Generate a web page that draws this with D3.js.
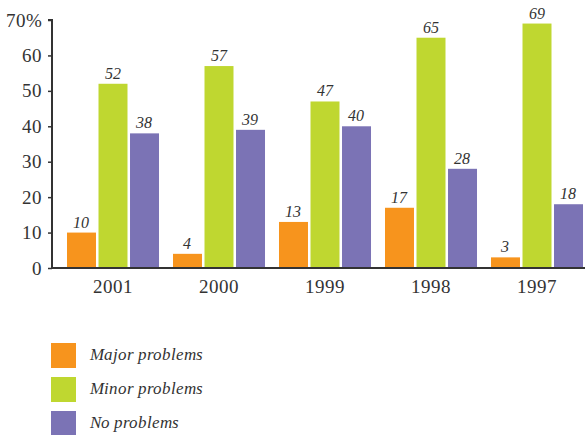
<!DOCTYPE html>
<html>
<head>
<meta charset="utf-8">
<script src="https://cdn.jsdelivr.net/npm/d3@7"></script>
<style>
  @font-face { font-family: "ChartSerif"; font-style: normal; font-weight: 400;
    src: local("Liberation Serif"), local("LiberationSerif"), local("Liberation Serif Regular"), local("LiberationSerif-Regular"); }
  @font-face { font-family: "ChartSerif"; font-style: italic; font-weight: 400;
    src: local("Liberation Serif Italic"), local("LiberationSerif-Italic"); }
</style>
</head>
<body style="margin:0;background:#fff">
<svg id="chart" width="585" height="435" style="display:block"></svg>
<script>
// Survey results by year (percent of respondents)
const years = ["2001", "2000", "1999", "1998", "1997"];
const seriesNames = ["Major problems", "Minor problems", "No problems"];
const majorProblems = [10, 4, 13, 17, 3];
const minorProblems = [52, 57, 47, 65, 69];
const noProblems = [38, 39, 40, 28, 18];
const yTicks = [0, 10, 20, 30, 40, 50, 60, 70];
const colors = ["#F7941D", "#BFD730", "#7B73B5"];

const FONT = '"ChartSerif", "Liberation Serif", "DejaVu Serif", serif';
const INK = "#333";

const seriesValues = [majorProblems, minorProblems, noProblems];
const rows = years.map((yr, i) => ({
  year: yr,
  values: seriesNames.map((s, k) => ({ key: s, value: seriesValues[k][i] }))
}));

const svg = d3.select("#chart").attr("font-family", FONT);
const axisX = 52, baseY = 268, topY = 20, rightX = 585;

const y = d3.scaleLinear().domain([0, 70]).range([baseY, topY]);
const x0 = d3.scaleBand().domain(years).range([60, 590])
  .paddingInner(0.132).paddingOuter(0.066);
const x1 = d3.scaleBand().domain(seriesNames).range([0, x0.bandwidth()])
  .paddingInner(0.08);
const color = d3.scaleOrdinal().domain(seriesNames).range(colors);

// Bars
const groups = svg.append("g").selectAll("g").data(rows).join("g")
  .attr("transform", d => `translate(${x0(d.year)},0)`);

groups.selectAll("rect").data(d => d.values).join("rect")
  .attr("x", d => x1(d.key))
  .attr("y", d => y(d.value))
  .attr("width", x1.bandwidth())
  .attr("height", d => baseY - y(d.value))
  .attr("fill", d => color(d.key));

// Value labels
groups.selectAll("text.val").data(d => d.values).join("text")
  .attr("class", "val")
  .attr("x", d => x1(d.key) + x1.bandwidth() / 2)
  .attr("y", d => y(d.value) - 5)
  .attr("text-anchor", "middle")
  .attr("font-family", FONT)
  .attr("font-style", "italic")
  .attr("font-size", 16)
  .attr("fill", INK)
  .text(d => d.value);

// Y axis
const yAxis = d3.axisLeft(y).tickValues(yTicks).tickSize(4).tickPadding(6)
  .tickFormat(d => d === 70 ? "70%" : d);
const gy = svg.append("g").attr("transform", `translate(${axisX},0)`).call(yAxis);
gy.attr("font-family", FONT).attr("font-size", 19);
gy.select(".domain").attr("stroke", INK).attr("stroke-width", 2)
  .attr("d", `M-4,${topY}H0V${baseY}`);
gy.selectAll(".tick line").attr("stroke", INK).attr("stroke-width", 1.5);
gy.selectAll(".tick text").attr("font-family", FONT).attr("font-size", 19).attr("fill", INK);

// X axis baseline and year labels
const xAxis = d3.axisBottom(x0).tickSize(0).tickPadding(12);
const gx = svg.append("g").attr("transform", `translate(0,${baseY})`).call(xAxis);
gx.attr("font-family", FONT).attr("font-size", 19);
gx.select(".domain").attr("stroke", INK).attr("stroke-width", 2)
  .attr("d", `M${axisX - 1},0H${rightX}`);
gx.selectAll(".tick text").attr("font-family", FONT).attr("font-size", 19).attr("fill", INK);

// Legend
const legend = svg.append("g").selectAll("g").data(seriesNames).join("g")
  .attr("transform", (d, i) => `translate(51,${343 + i * 34})`);
legend.append("rect").attr("width", 25).attr("height", 25)
  .attr("fill", d => color(d));
legend.append("text").attr("x", 39).attr("y", 17)
  .attr("font-family", FONT)
  .attr("font-style", "italic").attr("font-size", 17)
  .attr("fill", INK)
  .text(d => d);
</script>
</body>
</html>
